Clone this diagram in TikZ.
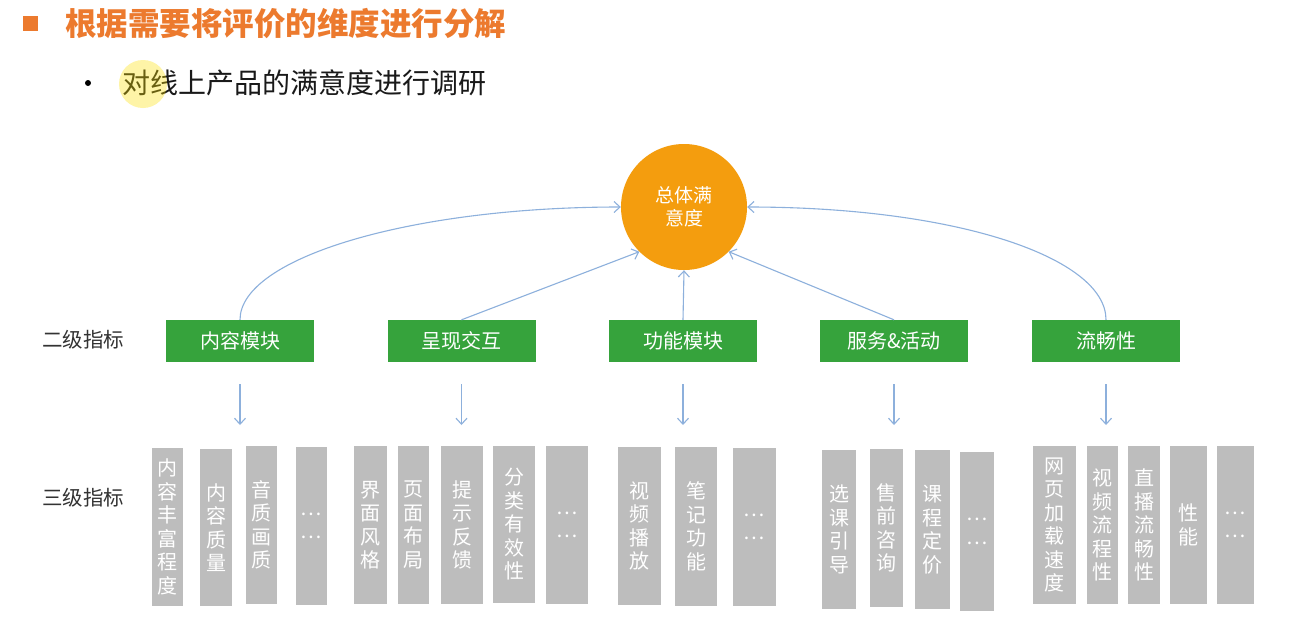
\documentclass[tikz,border=0pt]{standalone}
\usepackage{fontspec}
\setmainfont{Noto Sans CJK SC}
\usetikzlibrary{arrows.meta}
\definecolor{ttlorange}{HTML}{EC7A2E}
\definecolor{satorange}{HTML}{F49D0E}
\definecolor{boxgreen}{HTML}{36A33C}
\definecolor{boxgray}{HTML}{BDBDBD}
\definecolor{arrblue}{HTML}{8DB0DC}
\definecolor{labelgray}{HTML}{333333}
\newcommand{\gbx}[6]{\node[gbox, minimum width={#4-#2}, minimum height={#5-#3}] (#1) at ({(#2+#4)/2},{(#3+#5)/2}) {#6};}
\begin{document}
\begin{tikzpicture}[x=1pt,y=-1pt,
  gbox/.style={fill=boxgray, draw=none, inner sep=0pt, text=white, align=center, font=\fontsize{20}{23.5}\selectfont},
  greenbox/.style={fill=boxgreen, draw=none, minimum width=148, minimum height=42, inner sep=0pt, text=white, font=\fontsize{20}{24}\selectfont},
  arr/.style={draw=arrblue, line width=1.1pt, -{Straight Barb[length=6pt,width=11pt]}},
  lvl/.style={text=labelgray, font=\fontsize{20.5}{24}\selectfont, inner sep=0pt}
]
\useasboundingbox (0,0) rectangle (1292,622);
\fill[white] (0,0) rectangle (1292,622);

% title
\node[fill=ttlorange, minimum width=15, minimum height=15, inner sep=0pt] (sq) at (30,23) {};
\node[anchor=west, text=ttlorange, font=\fontsize{31.5}{33}\selectfont\bfseries, inner sep=0pt] (title) at (65,24) {根据需要将评价的维度进行分解};
\node[circle, fill=black, minimum size=6, inner sep=0pt] (bul) at (88,83) {};
\node[anchor=west, text=black!90, font=\fontsize{28}{30}\selectfont, inner sep=0pt] (sub) at (122,83) {对线上产品的满意度进行调研};
\fill[yellow!85!orange, opacity=0.35] (143,84) circle (24);

% top node
\node[circle, fill=satorange, minimum size=126, inner sep=0pt, text=white, align=center, font=\fontsize{19}{23}\selectfont] (sat) at (684,207) {总体满\\意度};

% level labels
\node[lvl] (l2) at (83,340) {二级指标};
\node[lvl] (l3) at (83,498) {三级指标};

% green boxes
\node[greenbox] (b1) at (240,341) {内容模块};
\node[greenbox] (b2) at (461.5,341) {呈现交互};
\node[greenbox] (b3) at (683,341) {功能模块};
\node[greenbox] (b4) at (894,341) {服务\&活动};
\node[greenbox] (b5) at (1106,341) {流畅性};

% arrows to top
\draw[arr] (b1.north) .. controls +(0,-62) and +(-210,0) .. (sat.west);
\draw[arr] (b5.north) .. controls +(0,-62) and +(210,0) .. (sat.east);
\draw[arr] (b2.north) -- (sat.south west);
\draw[arr] (b3.north) -- (sat.south);
\draw[arr] (b4.north) -- (sat.south east);

% down arrows
\foreach \b/\x in {b1/240,b2/461.5,b3/683,b4/894,b5/1106}{
  \coordinate (\b s) at (\x,384);
  \coordinate (\b e) at (\x,425);
  \draw[arr] (\b s) -- (\b e);
}

% gray boxes
\gbx{g11}{152}{448}{183}{606}{内\\容\\丰\\富\\程\\度}
\gbx{g12}{200}{449}{232}{606}{内\\容\\质\\量}
\gbx{g13}{246}{446}{277}{604}{音\\质\\画\\质}
\gbx{g14}{296}{447}{327}{605}{…\\…}
\gbx{g21}{354}{446}{387}{604}{界\\面\\风\\格}
\gbx{g22}{398}{446}{429}{604}{页\\面\\布\\局}
\gbx{g23}{441}{446}{483}{604}{提\\示\\反\\馈}
\gbx{g24}{493}{446}{535}{603}{分\\类\\有\\效\\性}
\gbx{g25}{546}{446}{588}{604}{…\\…}
\gbx{g31}{618}{447}{661}{605}{视\\频\\播\\放}
\gbx{g32}{675}{447}{717}{606}{笔\\记\\功\\能}
\gbx{g33}{733}{448}{776}{606}{…\\…}
\gbx{g41}{822}{450}{856}{609}{选\\课\\引\\导}
\gbx{g42}{870}{449}{903}{607}{售\\前\\咨\\询}
\gbx{g43}{915}{450}{950}{609}{课\\程\\定\\价}
\gbx{g44}{960}{452}{994}{611}{…\\…}
\gbx{g51}{1033}{446}{1076}{604}{网\\页\\加\\载\\速\\度}
\gbx{g52}{1087}{446}{1118}{604}{视\\频\\流\\程\\性}
\gbx{g53}{1128}{446}{1160}{604}{直\\播\\流\\畅\\性}
\gbx{g54}{1170}{446}{1207}{604}{性\\能}
\gbx{g55}{1217}{446}{1254}{604}{…\\…}
\end{tikzpicture}
\end{document}
